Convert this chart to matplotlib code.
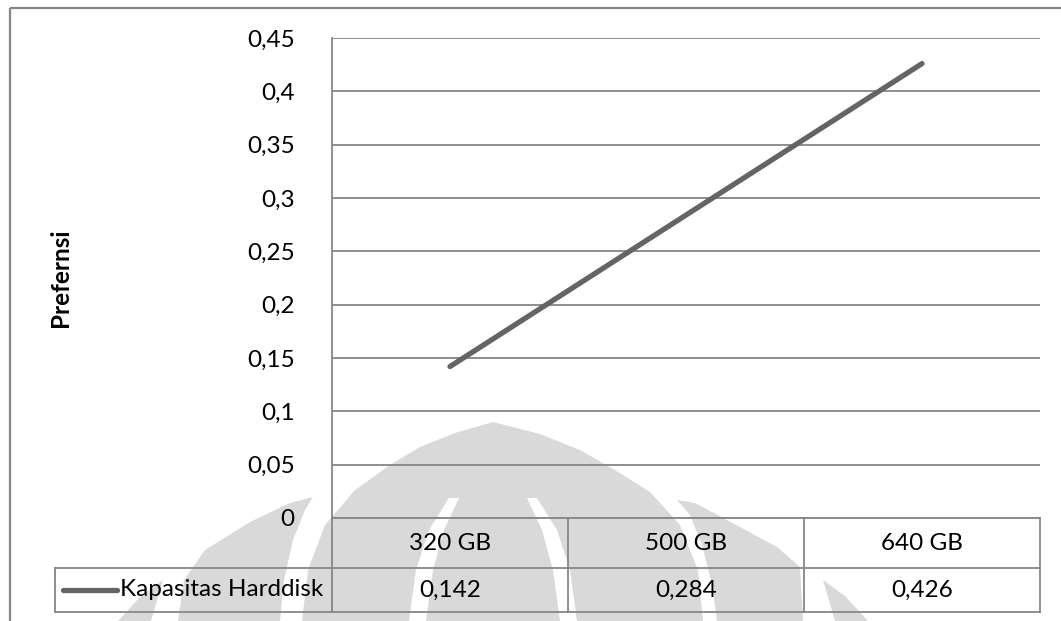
import matplotlib
matplotlib.use("Agg")
import matplotlib.pyplot as plt
from matplotlib.patches import Polygon, Rectangle
from matplotlib.lines import Line2D

# ---- data ----
categories = ["320 GB", "500 GB", "640 GB"]
preferensi = [0.142, 0.284, 0.426]
series_name = "Kapasitas Harddisk"
y_label = "Prefernsi"
y_ticks = [0, 0.05, 0.1, 0.15, 0.2, 0.25, 0.3, 0.35, 0.4, 0.45]

W, H = 1061, 621
FONT = "Lato"
FS = 17.5
GRID = "#868686"
LINE = "#646464"
MARK = "#d9d9d9"


def fmt(v):
    return f"{v:g}".replace(".", ",")


fig = plt.figure(figsize=(W / 100, H / 100), dpi=100)
fig.patch.set_facecolor("white")

# background canvas in pixel coordinates (y grows downward)
bg = fig.add_axes([0, 0, 1, 1], zorder=0)
bg.set_xlim(0, W)
bg.set_ylim(H, 0)
bg.axis("off")

# faint emblem behind the chart
emblem = [
    [(493, 422), (455, 433), (420, 447), (390, 465), (355, 490), (325, 525),
     (308, 570), (302, 621), (703, 621), (698, 570), (680, 525), (650, 492),
     (615, 470), (580, 450), (540, 434)],
    [(313, 497), (305, 510), (293, 540), (284, 580), (280, 621), (178, 621),
     (184, 580), (205, 550), (250, 522), (290, 503)],
    [(677, 500), (690, 515), (702, 545), (712, 585), (717, 621), (803, 621),
     (800, 567), (777, 547), (727, 520), (695, 503)],
    [(823, 580), (845, 596), (868, 621), (835, 621)],
    [(163, 580), (141, 596), (118, 621), (151, 621)],
]
for pts in emblem:
    bg.add_patch(Polygon(pts, closed=True, facecolor=MARK, edgecolor="none", zorder=1))
cuts = [
    [(527, 498), (537, 498), (557, 530), (570, 570), (577, 621), (560, 621),
     (553, 570), (542, 530)],
    [(459, 498), (449, 498), (429, 530), (416, 570), (409, 621), (426, 621),
     (433, 570), (444, 530)],
]
for pts in cuts:
    bg.add_patch(Polygon(pts, closed=True, facecolor="white", edgecolor="none", zorder=2))

# chart frame (extends past the right and bottom edges)
bg.add_patch(Rectangle((10, 8), 1100, 700, facecolor="none", edgecolor=GRID,
                       linewidth=1.6, zorder=5))

# plot area geometry
L, R, T, B = 332, 1040, 38, 518
ROW1, ROW2 = 568, 612
LEG_L = 55
col_w = (R - L) / len(categories)

ax = fig.add_axes([L / W, 1 - B / H, (R - L) / W, (B - T) / H], zorder=1)
ax.patch.set_alpha(0)
ax.set_xlim(-0.5, len(categories) - 0.5)
ax.set_ylim(0, 0.45)
for s in ["top", "right", "bottom"]:
    ax.spines[s].set_visible(False)
ax.spines["left"].set_color(GRID)
ax.spines["left"].set_linewidth(1.3)
ax.set_xticks([])
ax.set_yticks(y_ticks)
ax.set_yticklabels([fmt(v) for v in y_ticks], fontfamily=FONT, fontsize=FS)
ax.tick_params(axis="y", length=0, pad=27)
ax.yaxis.grid(True, color=GRID, linewidth=1.3)
ax.set_axisbelow(True)

ax.plot(range(len(categories)), preferensi, color=LINE, linewidth=3.8,
        solid_capstyle="round", zorder=3)

# y-axis title
fig.text(61 / W, 1 - 278 / H, y_label, rotation=90, ha="center", va="center",
         fontfamily=FONT, fontsize=FS, fontweight="bold")

# data table below the plot
lw = 1.3
def hline(y, x0, x1):
    bg.add_line(Line2D([x0, x1], [y, y], color=GRID, linewidth=lw, zorder=5))

def vline(x, y0, y1):
    bg.add_line(Line2D([x, x], [y0, y1], color=GRID, linewidth=lw, zorder=5))

hline(B, L, R)
hline(ROW1, LEG_L, R)
hline(ROW2, LEG_L, R)
vline(LEG_L, ROW1, ROW2)
vline(L, B, ROW2)
for i in range(1, len(categories) + 1):
    vline(L + i * col_w, B, ROW2)

for i, (cat, val) in enumerate(zip(categories, preferensi)):
    cx = L + (i + 0.5) * col_w
    bg.text(cx, (B + ROW1) / 2, cat, ha="center", va="center",
            fontfamily=FONT, fontsize=FS, zorder=6)
    bg.text(cx, (ROW1 + ROW2) / 2, fmt(val), ha="center", va="center",
            fontfamily=FONT, fontsize=FS, zorder=6)

# legend key inside the table
ky = (ROW1 + ROW2) / 2
bg.add_line(Line2D([63, 117], [ky, ky], color=LINE, linewidth=3.8,
                   solid_capstyle="round", zorder=6))
bg.text(120, ky, series_name, ha="left", va="center",
        fontfamily=FONT, fontsize=FS, zorder=6)

fig.savefig("out.png", dpi=100)
